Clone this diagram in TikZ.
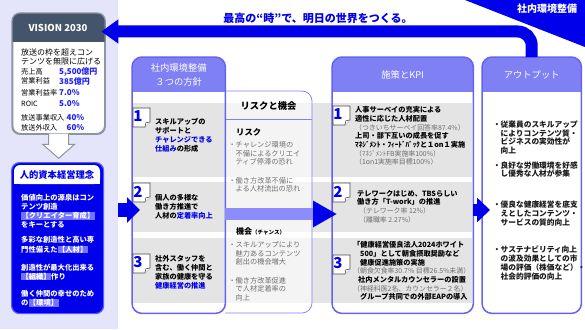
\documentclass[tikz,border=0pt]{standalone}
\usepackage{fontspec}
\setmainfont{Noto Sans CJK JP}
\usetikzlibrary{arrows.meta}
\definecolor{bl}{RGB}{0,0,235}
\definecolor{lav}{RGB}{128,128,245}
\definecolor{lavb}{RGB}{100,100,240}
\definecolor{band}{RGB}{228,228,228}
\definecolor{panel}{RGB}{228,228,250}
\definecolor{vhead}{RGB}{68,84,106}
\definecolor{vborder}{RGB}{140,150,160}
\definecolor{gtxt}{RGB}{110,110,110}
\definecolor{hlc}{RGB}{115,115,255}
\definecolor{shaftc}{RGB}{140,140,250}
\definecolor{phb}{RGB}{90,90,255}
\definecolor{valc}{RGB}{30,30,240}
\definecolor{dtxt}{RGB}{25,25,25}
\newcommand\hlt[1]{{\setlength\fboxsep{0.4pt}\colorbox{hlc}{#1}}}
\newcommand\fsz[2]{\fontsize{#1}{#2}\selectfont}
\newcommand\gry[1]{{\mdseries\color{gtxt}\fsz{6.9}{8.67}#1}}
\tikzset{
  txt/.style={inner sep=0pt, align=left, anchor=west},
  hdr/.style={inner sep=0pt, align=center, text=white, font=\fsz{9.3}{14}},
  colbox/.style={fill=white, inner sep=0pt, anchor=north west, rounded corners=10pt},
  colline/.style={draw=lavb, line width=1.5pt, rounded corners=10pt},
  tagshape/.style={draw=black!70, fill=white, line width=0.6pt},
  numtxt/.style={inner sep=0pt, text=bl, font=\fsz{15}{15}\bfseries},
  ptxt/.style={txt, font=\fsz{7.2}{9}\bfseries},
  rtxt/.style={txt, text=gtxt, font=\fsz{7.2}{8.5}},
  otxt/.style={txt, text=dtxt, font=\fsz{7.7}{8.6}\bfseries},
  ktxt/.style={txt, font=\fsz{7.2}{8.67}\bfseries},
  vlab/.style={txt, font=\fsz{7.2}{7.2}},
  vval/.style={txt, text=valc, font=\fsz{8}{8}\bfseries},
  phtxt/.style={txt, text=white, font=\fsz{7.3}{9.2}\bfseries},
}
\newcommand\numtag[4]{%
  \draw[tagshape] (#1,#2) -- ++(17,0) -- ++(0,14) -- ++(-5,5) -- ++(-12,0) -- cycle;
  \draw[tagshape] ({#1+12},{#2+19}) -- ++(0.8,-4.2) -- ++(4.2,-0.8);
  \node[numtxt] (#4) at ({#1+5},{#2+8.5}) {#3};
}
\begin{document}
\begin{tikzpicture}[x=1pt,y=-1pt]
\useasboundingbox (0,0) rectangle (585,329);
\fill[white] (0,0) rectangle (585,329);
\fill[panel] (0,0) rectangle (118,329);
% top right corner
\fill[bl] (465,0) -- (585,0) -- (585,47) -- cycle;
\node[inner sep=0pt, text=white, font=\fsz{10}{10}\bfseries] (corner) at (547,9) {社内環境整備};
\node[inner sep=0pt, text=bl, font=\fsz{11}{11}\bfseries] (title) at (318,18) {最高の“時”で、明日の世界をつくる。};

% columns
\node[colbox, minimum width=93pt, minimum height=256pt] (pol) at (132,57) {};
\node[colbox, minimum width=141pt, minimum height=256pt] (kpi) at (332,57) {};
\node[colbox, minimum width=99pt, minimum height=256pt] (out) at (482,57) {};

% bands
\fill[band] (133,103) rectangle (472,177);
\fill[band] (133,182) rectangle (472,232);
\fill[band] (133,238) rectangle (472,303);

% risk box
\begin{scope}
\clip (225,80) rectangle (330,320);
\fill[white, opacity=0.6, rounded corners=10pt] (200,91) rectangle (312,313);
\draw[lav, line width=0.7pt, rounded corners=10pt] (200,91) rectangle (312,313);
\end{scope}
\draw[lav, line width=0.8pt] (225,119) -- (312,119);

% headers
\foreach \c in {pol,kpi,out}{
  \begin{scope}
  \clip[rounded corners=10pt] (\c.north west) rectangle (\c.south east);
  \fill[lav] (\c.north west) rectangle ([yshift=-35pt]\c.north east);
  \end{scope}
  \draw[colline] (\c.north west) rectangle (\c.south east);
}
\node[hdr] (polh) at ([yshift=-18pt]pol.north) {社内環境整備\\３つの方針};
\node[hdr] (kpih) at ([yshift=-18pt]kpi.north) {施策とKPI};
\node[hdr] (outh) at ([yshift=-18pt]out.north) {アウトプット};

% arrows between columns
\coordinate (ya) at (0,210);
\coordinate (yb) at (0,214);
\path (kpi.west |- yb) ++(5,0) coordinate (m2);
\draw[shaftc, line width=12pt, -{Triangle[length=24pt,width=25pt,color=bl]}] (pol.east |- yb) -- (m2);
\path (out.west |- ya) ++(8,0) coordinate (m3);
\draw[bl, line width=12pt, -{Triangle[length=13pt,width=24pt]}] (kpi.east |- ya) -- (m3);

% tags
\numtag{133}{108}{1}{p1n}
\numtag{133}{183}{2}{p2n}
\numtag{133}{254}{3}{p3n}
\numtag{333}{106}{1}{k1n}
\numtag{333}{183}{2}{k2n}
\numtag{333}{255}{3}{k3n}

% policy texts
\node[ptxt] (p1) at (155,135.5) {スキルアップの\\サポートと\\{\color{bl}チャレンジできる}\\{\color{bl}仕組み}の形成};
\node[ptxt] (p2) at (155,207) {個人の多様な\\働き方推進で\\人材の{\color{bl}定着率向上}};
\node[ptxt] (p3) at (155,272) {社外スタッフを\\含む、働く仲間と\\家族の健康を守る\\{\color{bl}健康経営の推進}};

% risk texts
\node[inner sep=0pt, font=\fsz{9.3}{9.3}\bfseries] (rh) at (268.5,106) {リスクと機会};
\node[txt, font=\fsz{8.3}{8.3}\bfseries] (rk) at (236,132) {リスク};
\node[rtxt] (rk1) at (235.5,153.5) {\llap{・}チャレンジ環境の\\不備によるクリエイ\\ティブ停滞の恐れ};
\node[rtxt] (rk2) at (235.5,185) {\llap{・}働き方改革不備に\\よる人材流出の恐れ};
\node[txt, font=\fsz{8}{8}\bfseries] (ok) at (236,231) {機会{\fsz{5.5}{5.5}（チャンス）}};
\node[rtxt] (ok1) at (235.5,253.5) {\llap{・}スキルアップにより\\魅力あるコンテンツ\\創出の機会増大};
\node[rtxt] (ok2) at (235.5,289) {\llap{・}働き方改革促進\\で人材定着率の\\向上};

% kpi texts
\node[ktxt] (k1) at (355,136) {人事サーベイの充実による\\適性に応じた人材配置\\\gry{（つきいちサーベイ回答率87.4\%）}\\上司・部下互いの成長を促す\\ﾏﾈｼﾞﾒﾝﾄ・ﾌｨｰﾄﾞﾊﾞｯｸと１on１実施\\\gry{（ﾏﾈｼﾞﾒﾝﾄFB実施率100\%）}\\\gry{（1on1実施率目標100\%）}};
\node[ktxt] (k2) at (357,206.5) {テレワークはじめ、TBSらしい\\働き方「T-work」の推進\\\hspace*{2pt}\gry{（テレワーク率 12\%）}\\\hspace*{2pt}\gry{（離職率 2.27\%）}};
\node[ktxt] (k3) at (353,271) {「健康経営優良法人2024ホワイト\\\hspace*{7pt}500」として朝食摂取奨励など\\\hspace*{7pt}健康促進施策の実施\\\gry{（朝食欠食率30.7\% 目標26.5\%未満）}\\\hspace*{5pt}社内メンタルカウンセラーの設置\\\gry{（神経科医2名、カウンセラー２名）}\\\hspace*{7pt}グループ共同での外部EAPの導入};

% output texts
\node[otxt] (o1) at (500.5,137.5) {\llap{・}従業員のスキルアップ\\によりコンテンツ質・\\ビジネスの実効性が\\向上};
\node[otxt] (o2) at (500.5,169.5) {\llap{・}良好な労働環境を好感\\し優秀な人材が参集};
\node[otxt] (o3) at (500.5,213.5) {\llap{・}優良な健康経営を底支\\えとしたコンテンツ・\\サービスの質的向上};
\node[otxt, font=\fsz{7.7}{9}\bfseries] (o4) at (500.5,263.5) {\llap{・}サステナビリティ向上\\の波及効果としての市\\場の評価（株価など）・\\社会的評価の向上};

% VISION box
\node[draw=vborder, line width=1.3pt, fill=white, rounded corners=8pt, minimum width=92pt, minimum height=120pt, anchor=north west, inner sep=0pt] (vis) at (12,13) {};
\begin{scope}
\clip[rounded corners=8pt] (vis.north west) rectangle (vis.south east);
\fill[vhead] (vis.north west) rectangle ([yshift=-29pt]vis.north east);
\end{scope}
\draw[vborder, line width=1.3pt, rounded corners=8pt] (vis.north west) rectangle (vis.south east);
\node[inner sep=0pt, text=white, font=\fsz{9.5}{9.5}\bfseries] (vish) at (58,27.5) {VISION 2030};
\node[txt, font=\fsz{8}{9}] (vt) at (21,56.5) {放送の枠を超えコン\\テンツを無限に広げる};
\node[vlab] (l1) at (21,72) {売上高};
\node[vlab] (l2) at (21,81) {営業利益};
\node[vlab] (l3) at (21,93) {営業利益率};
\node[vlab] (l4) at (21,103.5) {ROIC};
\node[vlab] (l5) at (21,118) {放送事業収入};
\node[vlab] (l6) at (21,128) {放送外収入};
\node[vval] (w1) at (59,72) {5,500億円};
\node[vval] (w2) at (59,81) {385億円};
\node[vval] (w3) at (59,93) {7.0\%};
\node[vval] (w4) at (59,103.5) {5.0\%};
\node[vval] (w5) at (66.5,118) {40\%};
\node[vval] (w6) at (66.5,128) {60\%};

% philosophy box
\node[fill=bl, draw=phb, line width=1.2pt, rounded corners=8pt, minimum width=92pt, minimum height=151pt, anchor=north west, inner sep=0pt] (phil) at (11,162) {};
\fill[white, rounded corners=6pt] (14,165) rectangle (100,184);
\fill[white] (14,176) rectangle (100,184);
\node[inner sep=0pt, text=bl, font=\fsz{9.3}{9.3}\bfseries] (philh) at (57,174.5) {人的資本経営理念};
\node[phtxt] (ph1) at (21,211) {価値向上の源泉はコン\\テンツ創造\\\hlt{【クリエイター育成】}\\をキーとする};
\node[phtxt] (ph2) at (21,245) {多彩な創造性と高い専\\門性備えた\hlt{【人材】}};
\node[phtxt] (ph3) at (21,272) {創造性が最大化出来る\\\hlt{【組織】}作り};
\node[phtxt] (ph4) at (21,298.5) {働く仲間の幸せのため\\の\hlt{【環境】}};

% hollow arrow vision -> philosophy
\draw[vborder, fill=white, line width=1pt] (vis.south) ++(-10,-0.6) -- ++(0,10.6) -- ++(-6,0) -- ++(16,14) -- ++(16,-14) -- ++(-6,0) -- ++(0,-10.6);

% arrow philosophy -> policies
\path (phil.east |- ya) ++(14,0) coordinate (a1s);
\path (pol.west |- ya) ++(8,0) coordinate (a1e);
\draw[bl, line width=14pt, -{Triangle[length=13pt,width=25pt]}] (a1s) -- (a1e);

% big bar output -> vision
\path (vis.north east) ++(-4,18.5) coordinate (bartip);
\draw[bl, line width=12pt, rounded corners=14pt, -{Triangle[length=17pt,width=23pt]}] (out.north) |- (bartip);
\end{tikzpicture}
\end{document}
